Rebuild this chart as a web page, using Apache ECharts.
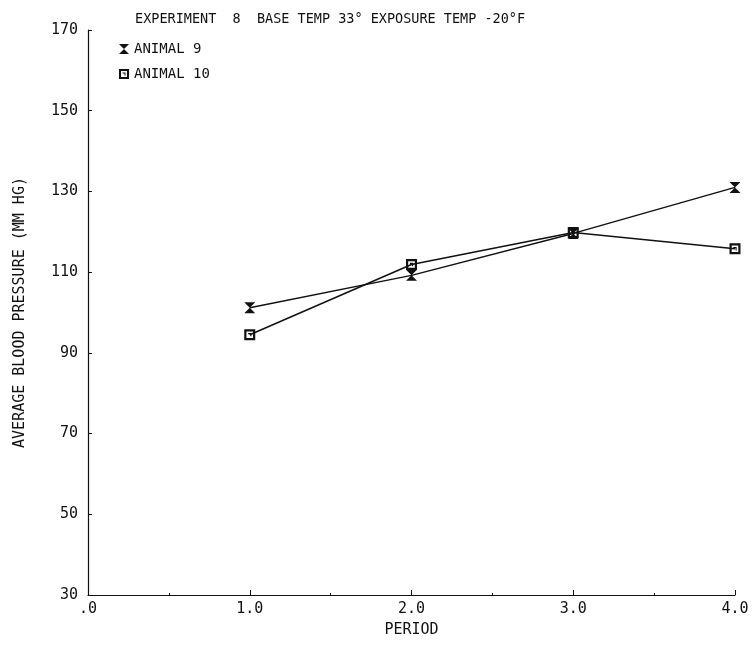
<!DOCTYPE html>
<html>
<head>
<meta charset="utf-8">
<script src="https://cdn.jsdelivr.net/npm/echarts@6/dist/echarts.min.js"></script>
<style>html,body{margin:0;padding:0;background:#fff}#c{width:756px;height:648px}</style>
</head>
<body>
<div id="c"></div>
<script>
const titleText = 'EXPERIMENT  8  BASE TEMP 33° EXPOSURE TEMP -20°F';
const periods = [1, 2, 3, 4];
const animal9 = [101.2, 109.2, 119.6, 131.0];
const animal10 = [94.5, 111.9, 119.8, 115.8];
const seriesNames = ['ANIMAL 9', 'ANIMAL 10'];
const xTicks = [0, 1, 2, 3, 4];
const yTicks = [30, 50, 70, 90, 110, 130, 150, 170];

const FONT = 'DejaVu Sans Mono';
const INK = '#111';
const hourglass = 'path://M0,0L10,0L0,10L10,10Z';
const boxSym = 'path://M0,0H10V10H0Z M2,2V8H8V2Z M3.5,3.5H6.5V6.5H5.5V4.5H3.5Z';

const chart = echarts.init(document.getElementById('c'), null, {renderer: 'canvas'});
chart.setOption({
  animation: false,
  backgroundColor: '#fff',
  title: {
    text: titleText, left: 130, top: 7,
    textStyle: {fontFamily: FONT, fontSize: 13.5, fontWeight: 'normal', color: INK}
  },
  legend: {
    orient: 'vertical', left: 114, top: 37, itemGap: 11,
    itemWidth: 10, itemHeight: 10,
    textStyle: {fontFamily: FONT, fontSize: 14, color: INK},
    data: [
      {name: seriesNames[0], icon: hourglass},
      {name: seriesNames[1], icon: boxSym}
    ]
  },
  grid: {left: 88, right: 21, top: 30, bottom: 53},
  xAxis: {
    type: 'value', min: 0, max: 4, interval: 1,
    name: 'PERIOD', nameLocation: 'middle', nameGap: 28,
    nameTextStyle: {fontFamily: FONT, fontSize: 15, color: INK},
    axisLine: {lineStyle: {color: INK, width: 1.2}},
    axisTick: {inside: true, length: 5, lineStyle: {color: INK}},
    minorTick: {show: true, splitNumber: 2, length: 2, lineStyle: {color: INK}},
    splitLine: {show: false},
    axisLabel: {fontFamily: FONT, fontSize: 15, color: INK, margin: 7,
      formatter: v => v === 0 ? '.0' : v.toFixed(1)}
  },
  yAxis: {
    type: 'value', min: 30, max: 170, interval: 20,
    name: 'AVERAGE BLOOD PRESSURE (MM HG)', nameLocation: 'middle', nameGap: 60,
    nameRotate: 90,
    nameTextStyle: {fontFamily: FONT, fontSize: 15, color: INK},
    axisLine: {show: true, lineStyle: {color: INK, width: 1.2}},
    axisTick: {show: true, inside: true, length: 4, lineStyle: {color: INK}},
    splitLine: {show: false},
    axisLabel: {fontFamily: FONT, fontSize: 15, color: INK, margin: 10,
      formatter: v => yTicks.includes(v) ? String(v) : ''}
  },
  series: [
    {
      name: seriesNames[0], type: 'line',
      data: periods.map((p, i) => [p, animal9[i]]),
      symbol: hourglass, symbolSize: 11,
      lineStyle: {color: INK, width: 1.5},
      itemStyle: {color: INK}
    },
    {
      name: seriesNames[1], type: 'line',
      data: periods.map((p, i) => [p, animal10[i]]),
      symbol: boxSym, symbolSize: 11,
      lineStyle: {color: INK, width: 1.5},
      itemStyle: {color: INK}
    }
  ]
});
</script>
</body>
</html>
